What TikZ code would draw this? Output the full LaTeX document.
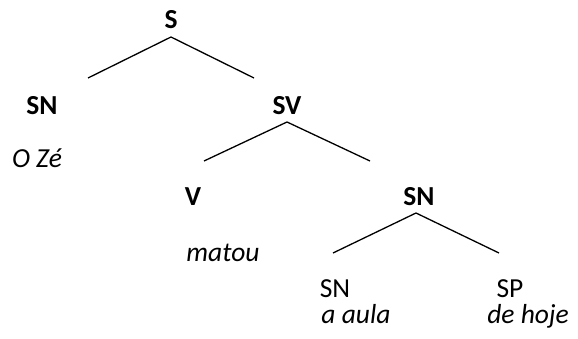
\documentclass[tikz,border=0pt]{standalone}
\usepackage{fontspec}
\setmainfont{Carlito}
\begin{document}
\begin{tikzpicture}[x=1pt,y=-1pt,
  lab/.style={inner sep=0pt,anchor=base,font=\fontsize{27.5}{32}\selectfont},
  cat/.style={lab,font=\fontsize{27.5}{32}\selectfont\bfseries},
  word/.style={lab,font=\fontsize{27.5}{32}\selectfont\itshape},
  branch/.style={line width=1.3pt,black}]
\useasboundingbox (0,0) rectangle (578,339);
% nodes
\node[cat] (S) at (171,29) {S};
\node[cat] (SN1) at (42,115) {SN};
\node[word] (w1) at (37,168) {O Zé};
\node[cat] (SV) at (287,115) {SV};
\node[cat] (V) at (193,205) {V};
\node[word] (w2) at (223,261) {matou};
\node[cat] (SN2) at (419,205) {SN};
\node[lab] (SN3) at (335,297) {SN};
\node[lab] (SP) at (510,297) {SP};
\node[word] (w3) at (356,323) {a aula};
\node[word] (w4) at (528,323) {de hoje};
% branch points
\coordinate (S-b) at (171,37);
\coordinate (SN1-t) at (88,78);
\coordinate (SV-t) at (254,78);
\coordinate (SV-b) at (287,122);
\coordinate (V-t) at (204,161);
\coordinate (SN2-t) at (370,161);
\coordinate (SN2-b) at (416,213);
\coordinate (SN3-t) at (333,253);
\coordinate (SP-t) at (499,253);
\draw[branch] (SN1-t) -- (S-b) -- (SV-t);
\draw[branch] (V-t) -- (SV-b) -- (SN2-t);
\draw[branch] (SN3-t) -- (SN2-b) -- (SP-t);
\end{tikzpicture}
\end{document}
